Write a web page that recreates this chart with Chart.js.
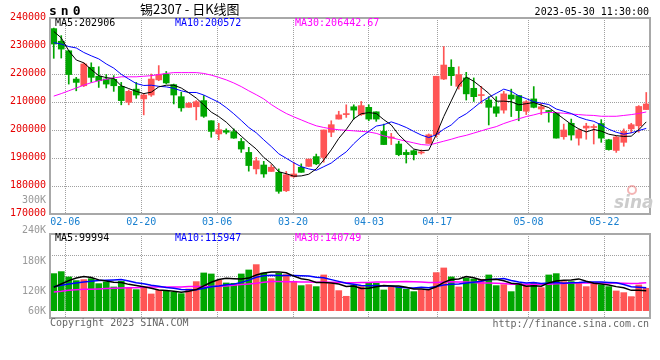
<!DOCTYPE html>
<html lang="zh-CN">
<head>
<meta charset="utf-8">
<title>锡2307 - 日K线图</title>
<script src="https://cdn.jsdelivr.net/npm/chart.js@4.4.1/dist/chart.umd.min.js"></script>
<style>
  html, body { margin: 0; padding: 0; background: #fff; }
  #wrap { position: relative; width: 660px; height: 360px; overflow: hidden; background: #fff; }
  #wrap canvas { position: absolute; left: 0; }
  #price-chart { top: 0; }
  #volume-chart { top: 224px; }
</style>
</head>
<body>
<div id="wrap">
  <canvas id="price-chart" width="660" height="228"></canvas>
  <canvas id="volume-chart" width="660" height="136"></canvas>
</div>
<script>
// trading days shown on the chart (2023)
const dates = [
  '02-02','02-03','02-06','02-07','02-08','02-09','02-10','02-13','02-14','02-15',
  '02-16','02-17','02-20','02-21','02-22','02-23','02-24','02-27','02-28','03-01',
  '03-02','03-03','03-06','03-07','03-08','03-09','03-10','03-13','03-14','03-15',
  '03-16','03-17','03-20','03-21','03-22','03-23','03-24','03-27','03-28','03-29',
  '03-30','03-31','04-03','04-04','04-06','04-07','04-10','04-11','04-12','04-13',
  '04-14','04-17','04-18','04-19','04-20','04-21','04-24','04-25','04-26','04-27',
  '04-28','05-04','05-05','05-08','05-09','05-10','05-11','05-12','05-15','05-16',
  '05-17','05-18','05-19','05-22','05-23','05-24','05-25','05-26','05-29','05-30'
];
const dateTicks = ['02-06','02-20','03-06','03-20','04-03','04-17','05-08','05-22'];

const opens = [
  236200,231700,228300,218200,215800,222400,219200,218200,218100,215600,
  209900,214600,211100,212500,217900,220000,216200,211900,208100,208300,
  210500,203300,198600,199800,199400,195900,192000,186100,187500,185200,
  184900,178300,183300,186700,187000,190500,190200,199200,203900,205500,
  208300,205500,208100,206500,199500,197100,195000,192000,192600,191800,
  195200,198300,218200,222400,215600,218600,214900,212300,210700,208300,
  207100,212500,212300,206700,211100,207500,206800,206000,197600,202400,
  197100,200700,200900,202300,196500,192700,195600,200400,201500,207300
];
const highs = [
  236400,233700,228500,218800,224000,224000,222600,219800,219400,217000,
  214300,217000,213100,220000,223000,220900,216400,213500,209900,210500,
  212300,203300,202400,200400,200400,197000,193800,190200,188800,187600,
  186100,185200,188500,187900,189600,191400,200000,203300,206700,209000,
  209000,210200,209000,206500,202100,198800,196000,192900,192900,192900,
  198600,219200,229800,225100,222600,220600,218600,215600,211900,211900,
  213800,214600,212300,210500,215500,209500,207000,206300,202100,203900,
  200400,202400,201900,203700,196700,197800,200400,202400,208700,213400
];
const lows = [
  225600,225700,216400,214000,215500,217000,215200,215000,213800,209000,
  209000,211300,205400,212000,217600,216500,209300,206700,208100,203600,
  204500,197400,196500,198600,197000,192000,185300,184300,183100,185200,
  177400,178000,183100,184900,186900,187600,188500,197600,203900,204500,
  203900,205200,203300,203100,194800,194800,190800,188200,189300,191400,
  195200,197400,218000,215900,214600,210700,210200,209500,201800,204800,
  206000,204800,203300,205500,207900,205500,202800,197100,196700,196400,
  194600,196700,195000,195600,192800,192000,194200,199000,199200,207300
];
const closes = [
  230700,228900,219800,217000,223600,218800,217600,216400,215800,210500,
  213800,212500,212500,218200,219800,216800,212500,207900,209500,210100,
  204900,199500,200100,199200,197100,193200,187300,189000,184300,186700,
  178100,184000,184300,184900,189600,187900,200000,201900,205400,205700,
  207100,208700,203900,203900,194800,197500,191200,191200,191200,192000,
  198300,219200,223200,219400,219800,212900,211900,212600,208100,206000,
  212900,211100,206900,210100,208100,208300,206600,197100,200000,198200,
  200000,201400,201200,197100,193000,197500,199500,201900,208400,209300
];

const ma5 = [
  235200,232900,228300,225000,224000,221600,219400,218700,218400,215800,
  214800,213800,213000,213500,215400,216000,216000,215000,213300,211400,
  209000,206400,204800,202800,200200,197800,195400,193200,190200,188100,
  185100,184400,183500,183600,184200,186100,189300,192900,197000,200200,
  204000,205800,206200,205900,203700,201800,198300,195700,193200,192600,
  192800,198400,204800,210400,216000,218900,217400,215300,213100,210300,
  210300,210100,209000,209400,209800,208900,208000,206000,204000,202000,
  200400,199300,200200,199600,198500,198000,197700,197800,200100,202906
];
const ma10 = [
  231200,230700,229800,229300,227700,226500,225400,223600,222100,219900,
  218200,216600,215900,216000,215600,215400,214900,214000,213400,213400,
  212500,211200,209900,208000,205800,203400,200900,199000,196500,194100,
  191500,189900,188300,186900,186100,185600,186900,188200,190300,192200,
  195100,197600,199500,201400,201900,202900,202000,200900,199500,198200,
  197300,198300,200300,201800,204300,205800,207900,210100,211700,213100,
  214600,213800,212200,211200,210100,209600,209100,207500,206700,205900,
  204600,203700,203100,201800,200300,199200,198500,199000,199800,200572
];
const ma30 = [
  212100,213000,214000,215000,216000,216900,217600,218100,218600,219000,
  219000,219000,219200,219400,219800,220200,220500,220500,220500,220500,
  220200,219600,218800,217900,216800,215500,214000,212600,211100,209100,
  207400,205900,204700,203600,202500,201500,200900,200400,200100,199900,
  199700,199500,199300,198800,197900,197300,196600,196000,195400,194800,
  194600,195300,196000,196700,197500,198100,198900,199700,200500,201200,
  202300,203200,204000,204800,205400,206100,206300,206200,206000,205700,
  205500,205300,205200,204900,204900,204900,205200,205500,205900,206443
];

const volumes = [
  187000,197100,170200,151700,156700,161800,136500,144900,119700,148300,
  114600,106200,114600,84300,102900,97800,92800,86000,109600,146600,
  190400,185300,153400,139900,138200,185300,205500,232500,190400,161800,
  188700,182000,148300,126400,131500,121400,180300,136500,101200,72600,
  129800,121400,139900,138200,104500,119700,118000,107900,96100,104500,
  104500,192100,215600,170200,119700,165100,160100,158400,180300,126400,
  131500,96100,138200,126400,139900,116300,180300,187000,146600,146600,
  141600,121400,134800,129800,121400,99500,91100,70900,129800,113000
];
const volMa5 = [
  118000,134800,151700,165100,172500,167500,155400,150300,143900,142200,
  132800,126700,120700,113600,104500,101200,98500,92800,97800,106600,
  125100,143600,157100,163100,161400,160400,164500,180300,190400,195100,
  195800,191100,174200,161400,155400,141900,141600,139200,134200,122400,
  124100,112300,113000,120400,126800,124700,124100,117700,109200,109200,
  106200,121000,142600,157400,160400,172500,166100,154700,156700,158100,
  151300,138500,134500,123700,126400,123400,140200,150000,154000,155400,
  160400,148600,138200,134800,129800,121400,115300,102500,102500,99994
];
const volMa10 = [
  121400,128100,134800,139900,144900,148300,151700,153300,155000,157400,
  150200,141100,135500,128800,123400,117000,112600,106700,105700,105500,
  113100,121000,124900,130500,134000,142800,154000,168700,176800,178300,
  178100,177800,177300,175900,175200,168900,166300,156700,147800,138900,
  133000,126900,126100,127300,124600,124400,118200,115300,114800,118000,
  115500,122500,130100,133300,134800,139400,143600,148600,157100,159200,
  161900,152300,144600,140200,142200,137400,139400,142200,138900,140900,
  141900,144400,144100,144300,142600,140900,132000,120400,118700,115947
];
const volMa30 = [
  94400,97800,102900,106200,107900,107900,109600,111300,113000,114600,
  116300,116300,118000,119700,119700,119700,119700,119700,121400,121400,
  121400,121400,123000,124700,128100,131500,134800,138200,143300,147100,
  147100,146600,145900,145100,144200,142900,144300,144000,143400,140900,
  141400,141900,142800,144600,144600,145300,146200,146900,146500,145100,
  142200,142400,144500,145500,144900,144200,142700,140200,139900,138700,
  136800,133900,133600,133600,133900,133700,133700,135400,136900,139400,
  139800,139800,139600,139300,139900,139200,138300,137100,138200,140749
];

const priceLegend = ['MA5:202906', 'MA10:200572', 'MA30:206442.67'];
const volumeLegend = ['MA5:99994', 'MA10:115947', 'MA30:140749'];
const volumeAxisLabels = ['240K', '180K', '120K', '60K'];
const titleText = '锡2307 - 日K线图';
const symbolText = 'sn0';
const stampText = '2023-05-30 11:30:00';

const MONO = '"DejaVu Sans Mono", "Liberation Mono", monospace';
const RED = '#ff5555';
const GREEN = '#00a600';
const GRID = '#a0a0a0';
const FRAME = '#a8a8a8';
const LINE_COLORS = ['#000000', '#0000ff', '#ff00ff'];

// sina spaces its date grid a little wider than one candle slot
function gridPos(idx) {
    return 1.54 + (idx - 2) * 1.0123;
}

const toXY = arr => arr.map((v, i) => ({ x: i, y: v }));
const candleColors = dates.map((d, i) => closes[i] >= opens[i] ? RED : GREEN);

function xScale(showLabels, height) {
    return {
        type: 'linear',
        min: -0.5,
        max: dates.length - 0.5,
        offset: false,
        afterBuildTicks: function(scale) {
            scale.ticks = dateTicks.map(d => ({ value: gridPos(dates.indexOf(d)) }));
        },
        afterFit: function(scale) { scale.height = height; },
        grid: { color: GRID, drawTicks: false, offset: false },
        border: { display: false, dash: [1, 1] },
        ticks: {
            display: showLabels,
            autoSkip: false,
            maxRotation: 0,
            padding: 2,
            color: '#1a80d0',
            font: { family: MONO, size: 10 },
            callback: (v, i) => dateTicks[i]
        }
    };
}

function maLine(label, data, color, width) {
    return {
        type: 'line',
        label: label,
        data: toXY(data),
        borderColor: color,
        borderWidth: width,
        pointRadius: 0,
        tension: 0,
        order: 0
    };
}

const priceDecor = {
    id: 'priceDecor',
    afterDraw(chart) {
        const { ctx, chartArea: a } = chart;
        ctx.save();
        ctx.strokeStyle = FRAME;
        ctx.lineWidth = 2;
        ctx.strokeRect(a.left, a.top, a.right - a.left, a.bottom - a.top);

        ctx.textBaseline = 'middle';
        ctx.font = '10px ' + MONO;
        const legendX = [55, 175, 295];
        priceLegend.forEach((t, i) => {
            ctx.fillStyle = LINE_COLORS[i];
            ctx.fillText(t, legendX[i], a.top + 5.5);
        });

        ctx.fillStyle = '#000';
        ctx.textAlign = 'right';
        ctx.fillText(stampText, 649, 12);

        ctx.fillStyle = '#999';
        ctx.fillText('300K', 46, 200.5);

        ctx.textAlign = 'left';
        ctx.fillStyle = '#000';
        ctx.font = '13px "Noto Sans CJK SC"';
        ctx.fillText(titleText, 140, 9);

        ctx.font = 'bold 13px ' + MONO;
        ctx.letterSpacing = '4px';
        ctx.fillText(symbolText, 49, 11.5);
        ctx.letterSpacing = '0px';

        // sina watermark
        ctx.strokeStyle = 'rgba(235,120,120,0.55)';
        ctx.lineWidth = 2;
        ctx.beginPath();
        ctx.arc(632, 190, 4, 0, Math.PI * 2);
        ctx.stroke();
        ctx.fillStyle = '#cccccc';
        ctx.font = 'italic bold 17px "DejaVu Sans"';
        ctx.textBaseline = 'alphabetic';
        ctx.fillText('sina', 614, 208);
        ctx.restore();
    }
};

const volumeDecor = {
    id: 'volumeDecor',
    afterDraw(chart) {
        const { ctx, chartArea: a } = chart;
        ctx.save();
        ctx.strokeStyle = FRAME;
        ctx.lineWidth = 2;
        ctx.strokeRect(a.left, a.top, a.right - a.left, a.bottom - a.top);

        ctx.textBaseline = 'middle';
        ctx.font = '10px ' + MONO;
        const legendX = [55, 175, 295];
        volumeLegend.forEach((t, i) => {
            ctx.fillStyle = LINE_COLORS[i];
            ctx.fillText(t, legendX[i], a.top + 4);
        });

        ctx.fillStyle = '#999';
        ctx.textAlign = 'right';
        const labelY = [6, 37, 67, 87];
        volumeAxisLabels.forEach((t, i) => ctx.fillText(t, 46, labelY[i]));

        ctx.fillStyle = '#666';
        ctx.fillText('http://finance.sina.com.cn', 649, 100);
        ctx.textAlign = 'left';
        ctx.fillText('Copyright 2023 SINA.COM', 50, 99.5);
        ctx.restore();
    }
};

document.addEventListener('DOMContentLoaded', function() {

    // K-line chart
    const priceCtx = document.getElementById('price-chart');
    const bodies = dates.map((d, i) => ({ x: i, y: [Math.min(opens[i], closes[i]), Math.max(opens[i], closes[i])] }));
    const wicks = dates.map((d, i) => ({ x: i, y: [lows[i], highs[i]] }));

    new Chart(priceCtx, {
        type: 'bar',
        data: {
            datasets: [
                maLine('MA5', ma5, LINE_COLORS[0], 1),
                maLine('MA10', ma10, LINE_COLORS[1], 1),
                maLine('MA30', ma30, LINE_COLORS[2], 1),
                {
                    label: 'body',
                    data: bodies,
                    backgroundColor: candleColors,
                    barThickness: 6,
                    minBarLength: 1,
                    grouped: false,
                    order: 1
                },
                {
                    label: 'wick',
                    data: wicks,
                    backgroundColor: candleColors,
                    barThickness: 1,
                    grouped: false,
                    order: 2
                }
            ]
        },
        options: {
            responsive: false,
            animation: false,
            layout: { padding: { top: 18, right: 10, left: 0, bottom: 0 } },
            plugins: {
                legend: { display: false },
                tooltip: { enabled: false }
            },
            scales: {
                x: xScale(true, 14),
                y: {
                    min: 170000,
                    max: 240000,
                    afterFit: function(scale) { scale.width = 50; },
                    grid: { color: GRID, drawTicks: false },
                    border: { display: false, dash: [1, 1] },
                    ticks: {
                        stepSize: 10000,
                        padding: 4,
                        labelOffset: -1,
                        color: '#e60000',
                        font: { family: MONO, size: 10 },
                        callback: v => String(v)
                    }
                }
            }
        },
        plugins: [priceDecor]
    });

    // Volume chart
    const volumeCtx = document.getElementById('volume-chart');
    const volMin = -37000;
    const volMax = 387000;

    new Chart(volumeCtx, {
        type: 'bar',
        data: {
            datasets: [
                maLine('MA5', volMa5, LINE_COLORS[0], 1.5),
                maLine('MA10', volMa10, LINE_COLORS[1], 1.5),
                maLine('MA30', volMa30, LINE_COLORS[2], 1.5),
                {
                    label: 'volume',
                    data: volumes.map((v, i) => ({ x: i, y: [0, v] })),
                    backgroundColor: candleColors,
                    barThickness: 6,
                    grouped: false,
                    order: 1
                }
            ]
        },
        options: {
            responsive: false,
            animation: false,
            layout: { padding: { top: 10, right: 10, left: 0, bottom: 0 } },
            plugins: {
                legend: { display: false },
                tooltip: { enabled: false }
            },
            scales: {
                x: xScale(false, 42),
                y: {
                    min: volMin,
                    max: volMax,
                    afterFit: function(scale) { scale.width = 50; },
                    afterBuildTicks: function(scale) {
                        const step = (volMax - volMin) / 4;
                        scale.ticks = [0, 1, 2, 3, 4].map(k => ({ value: volMin + k * step }));
                    },
                    grid: {
                        color: c => (c.index === 0 || c.index === 4) ? 'rgba(0,0,0,0)' : GRID,
                        drawTicks: false
                    },
                    border: { display: false, dash: [1, 1] },
                    ticks: { display: false }
                }
            }
        },
        plugins: [volumeDecor]
    });
});
</script>
</body>
</html>
